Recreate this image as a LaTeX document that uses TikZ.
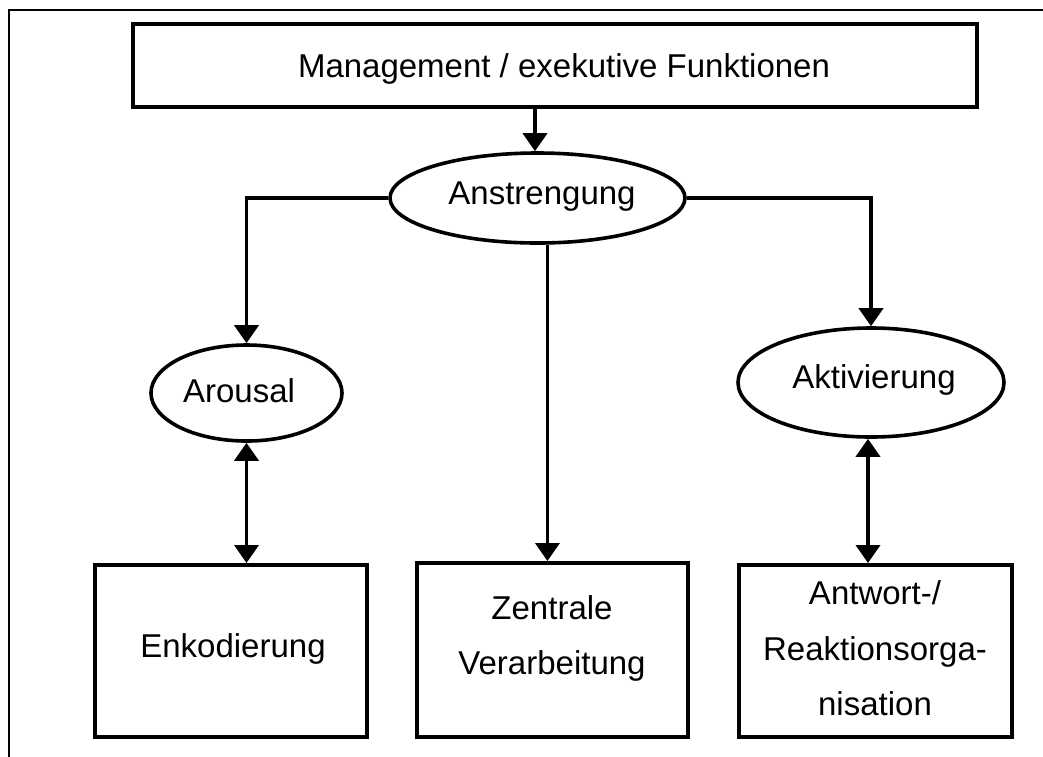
\documentclass[tikz,border=0pt]{standalone}
\usepackage{fontspec}
\setmainfont{Liberation Sans}
\usetikzlibrary{shapes.geometric,arrows.meta}
\begin{document}
\begin{tikzpicture}[x=1pt,y=-1pt,
  box/.style={draw,line width=4pt,rectangle,inner sep=0pt},
  oval/.style={draw,line width=3.6pt,ellipse,inner sep=0pt},
  txt/.style={anchor=base,inner sep=0pt,font=\fontsize{33}{38}\selectfont},
  conn/.style={line width=3.8pt,-{Triangle[width=24pt,length=18pt]}},
  dconn/.style={line width=3.8pt,{Triangle[width=24pt,length=18pt]}-{Triangle[width=24pt,length=18pt]}}]
\useasboundingbox (0,0) rectangle (1043,756);
\fill[white] (0,0) rectangle (1043,756);
% outer frame (only top and left visible)
\draw[line width=2.2pt] (9,760) -- (9,10) -- (1050,10);
% nodes
\node[box,minimum width=844pt,minimum height=83pt] (top) at (555,65.5) {};
\node[oval,minimum width=295pt,minimum height=90pt] (anst) at (537.5,198) {};
\node[oval,minimum width=191pt,minimum height=96pt] (arousal) at (246.5,393) {};
\node[oval,minimum width=266pt,minimum height=109pt] (aktiv) at (871,382.5) {};
\node[box,minimum width=272pt,minimum height=172pt] (enk) at (231,651) {};
\node[box,minimum width=271pt,minimum height=174pt] (zen) at (552.5,650) {};
\node[box,minimum width=273pt,minimum height=172pt] (ant) at (875.5,651) {};
% texts
\node[txt] (ttop) at (564,77) {Management / exekutive Funktionen};
\node[txt] (tanst) at (542,204) {Anstrengung};
\node[txt] (tarousal) at (239,402) {Arousal};
\node[txt] (taktiv) at (874,388) {Aktivierung};
\node[txt] (tenk) at (233,657) {Enkodierung};
\node[txt] (tzen1) at (552,619) {Zentrale};
\node[txt] (tzen2) at (552,674) {Verarbeitung};
\node[txt] (tant1) at (875,604) {Antwort-/};
\node[txt] (tant2) at (875,660) {Reaktionsorga-};
\node[txt] (tant3) at (875,715) {nisation};
% connectors
\draw[conn] ([xshift=-2.5pt]anst.north |- top.south) -- ([xshift=-2.5pt]anst.north);
\draw[conn] (anst.west) -| (arousal.north);
\draw[conn] (anst.east) -| (aktiv.north);
\draw[conn] (anst.-78) -- (anst.-78 |- zen.north);
\draw[dconn] (arousal.south) -- (arousal.south |- enk.north);
\draw[dconn] ([xshift=-3pt]aktiv.south) -- ([xshift=-3pt]aktiv.south |- ant.north);
\end{tikzpicture}
\end{document}
